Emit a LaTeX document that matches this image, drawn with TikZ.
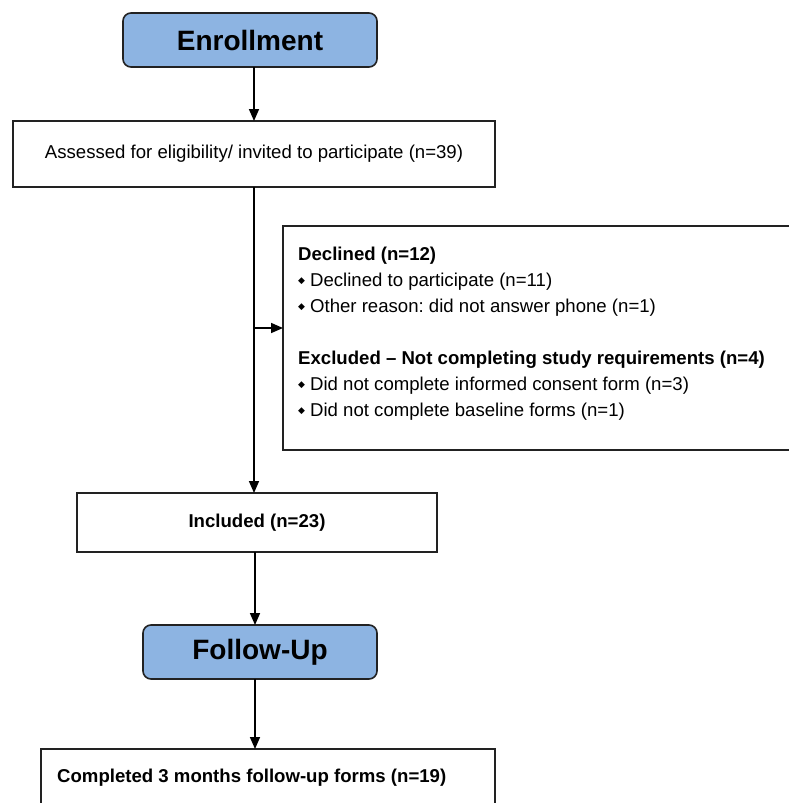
\documentclass[tikz,border=0pt]{standalone}
\usepackage{fontspec}
\setmainfont{Liberation Sans}
\newfontfamily\djv{DejaVu Sans}
\usetikzlibrary{arrows.meta,calc}
\definecolor{hdrblue}{HTML}{8DB4E2}
\definecolor{edge}{HTML}{222222}
\newcommand{\bul}{\raisebox{3pt}{\djv\fontsize{9}{9}\selectfont ◆}\hspace{5pt}}
\frenchspacing
\tikzset{
  base/.style={draw=edge, line width=1.6pt, inner sep=0pt, outer sep=0pt},
  hdrbox/.style={base, rounded corners=8pt, fill=hdrblue, font=\fontsize{28}{32}\selectfont\bfseries},
  plainbox/.style={base, fill=white, font=\fontsize{18.6}{24}\selectfont},
  conn/.style={draw=black, line width=1.6pt, -{Triangle[length=12pt,width=10pt]}},
}
\begin{document}
\begin{tikzpicture}[x=1pt,y=-1pt]
\useasboundingbox (0,0) rectangle (789,803);
\clip (0,0) rectangle (789,803);
\fill[white] (0,0) rectangle (789,803);

\node[hdrbox, minimum width=254pt, minimum height=54pt] (enroll) at (250,40) {Enrollment};
\node[plainbox, minimum width=482pt, minimum height=66pt] (assessed) at (254,154)
  {Assessed for eligibility/ invited to participate (n=39)};
\node[plainbox, anchor=north west, minimum width=520pt, minimum height=224pt] (side) at (283,226) {};
\node[anchor=north west, align=left, inner sep=0pt, font=\fontsize{18.6}{26}\selectfont] (sidetext) at (298,247)
  {\textbf{Declined (n=12)}\\
   \bul Declined to participate (n=11)\\
   \bul Other reason: did not answer phone (n=1)\\[26pt]
   \textbf{Excluded – Not completing study requirements (n=4)}\\
   \bul Did not complete informed consent form (n=3)\\
   \bul Did not complete baseline forms (n=1)};
\node[plainbox, minimum width=360pt, minimum height=59pt, font=\fontsize{18.6}{24}\selectfont\bfseries] (included) at (257,522.5) {Included (n=23)};
\node[hdrbox, minimum width=234pt, minimum height=54pt] (follow) at (260,652) {Follow-Up};
\node[plainbox, anchor=north west, minimum width=454pt, minimum height=90pt] (comp) at (41,749) {};
\node[anchor=west, inner sep=0pt, font=\fontsize{18.6}{24}\selectfont\bfseries] (comptext) at (57,778) {Completed 3 months follow-up forms (n=19)};

\coordinate (branch) at (254,328);
\draw[conn] (assessed.north |- enroll.south) -- (assessed.north);
\draw[conn] (assessed.south) -- (assessed.south |- included.north);
\draw[conn] (branch) -- (branch -| side.west);
\draw[conn] ([xshift=-2pt]included.south) -- ([xshift=-2pt]included.south |- follow.north);
\draw[conn] ([xshift=-5pt]follow.south) -- ([xshift=-5pt]follow.south |- comp.north);
\end{tikzpicture}
\end{document}
